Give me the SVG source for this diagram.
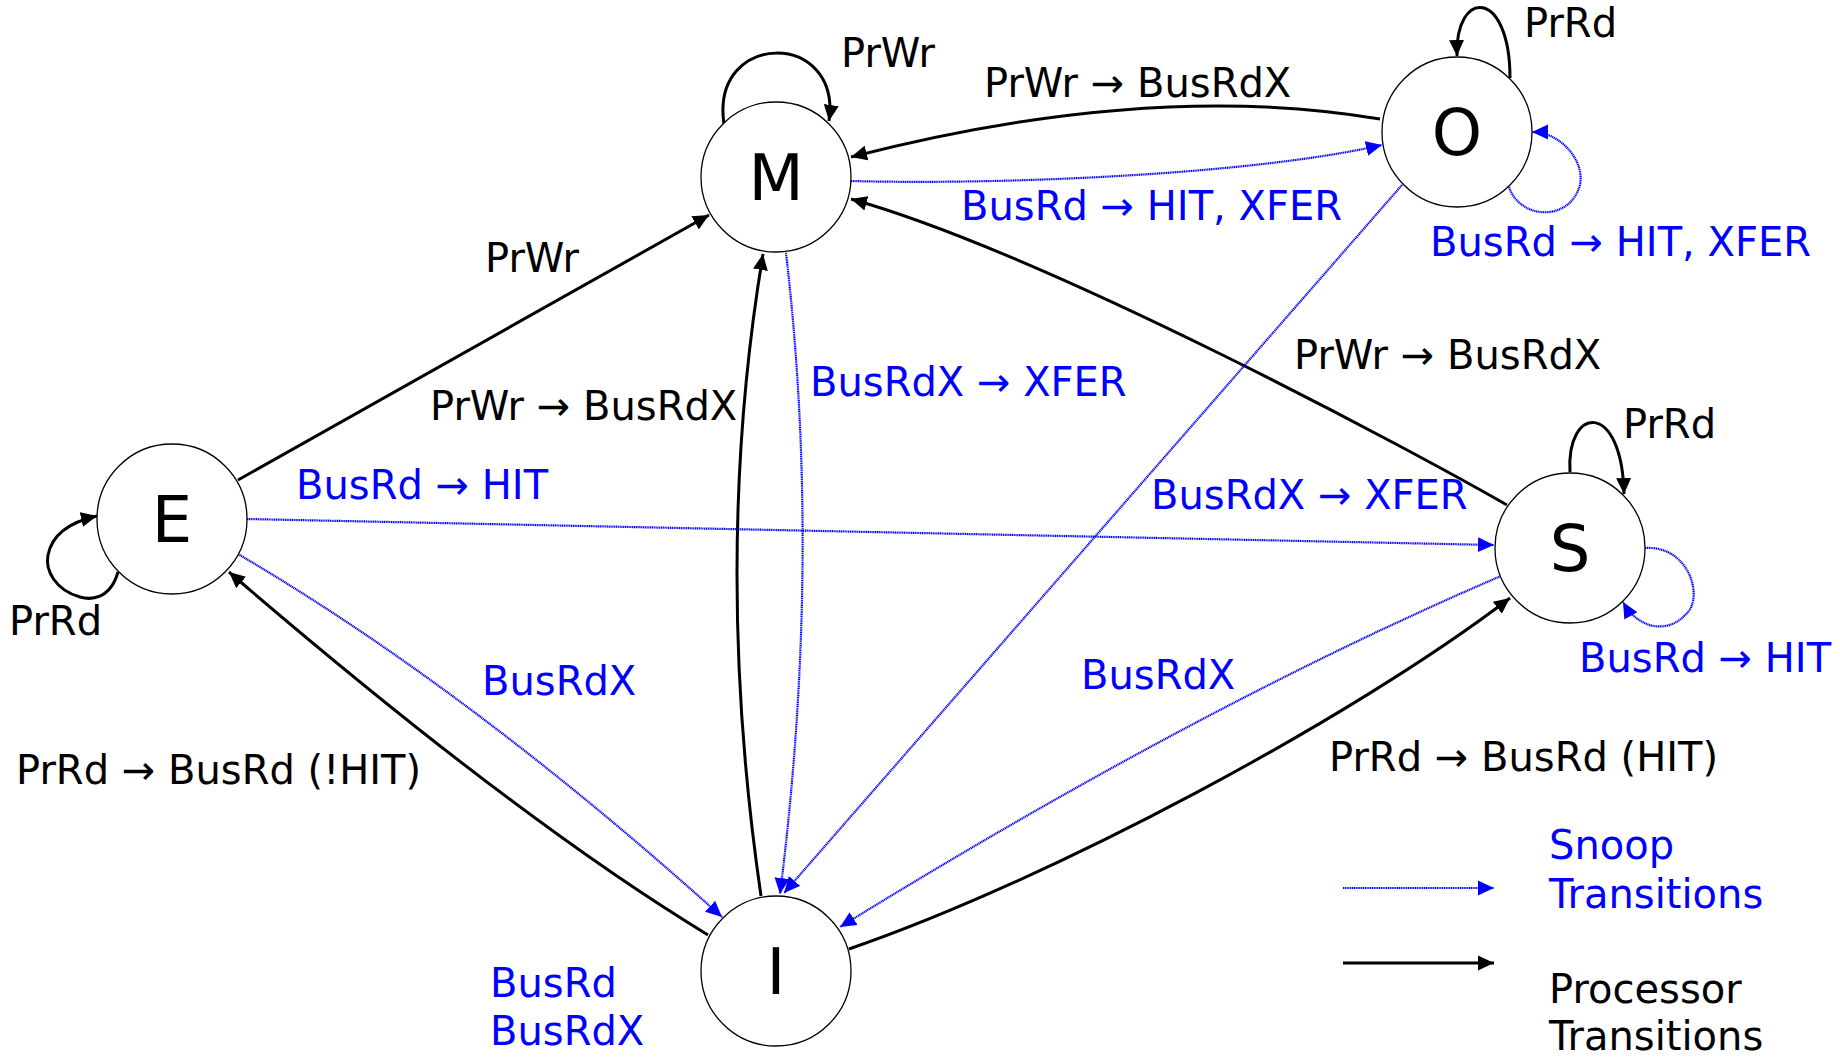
<svg xmlns="http://www.w3.org/2000/svg" width="1840" height="1060" viewBox="0 0 1840 1060">
<defs>
<style>
.node circle{fill:#fff;stroke:#000;stroke-width:1.3}
.node text{font-family:"DejaVu Sans",sans-serif;font-size:64px;text-anchor:middle;fill:#000}
.lbl{font-family:"DejaVu Sans",sans-serif;font-size:40px}
.k{fill:#000}
.b{fill:#0000ff}
.pe{fill:none;stroke:#000;stroke-width:3}
.se{fill:none;stroke:#0000ff;stroke-width:2.2;stroke-dasharray:1.2 0.6}
</style>
<marker id="ak" markerUnits="userSpaceOnUse" markerWidth="16" markerHeight="16" refX="16" refY="7.5" orient="auto" viewBox="0 0 16 15"><path d="M0,0 L16,7.5 L0,15 z" fill="#000"/></marker>
<marker id="ab" markerUnits="userSpaceOnUse" markerWidth="16" markerHeight="16" refX="16" refY="7.5" orient="auto" viewBox="0 0 16 15"><path d="M0,0 L16,7.5 L0,15 z" fill="#0000ff"/></marker>
</defs>
<rect width="1840" height="1060" fill="#fff"/>
<g id="connectors">
<!-- processor transitions -->
<path class="pe" marker-end="url(#ak)" d="M724,124 C710,30 842,30 829,121"/>
<path class="pe" marker-end="url(#ak)" d="M1380,119 Q1150,80 851,157"/>
<path class="pe" marker-end="url(#ak)" d="M1510,78 C1510,-12 1455,-12 1457,56"/>
<path class="pe" marker-end="url(#ak)" d="M238,480 L709,215"/>
<path class="pe" marker-end="url(#ak)" d="M761,896 Q712,560 763,254"/>
<path class="pe" marker-end="url(#ak)" d="M1507,505 C1420,455 1050,255 851,199"/>
<path class="pe" marker-end="url(#ak)" d="M118,572 C110,600 90,600 80,597 C55,590 45,570 48,555 C52,535 70,522 97,516"/>
<path class="pe" marker-end="url(#ak)" d="M708,935 Q515,818 229,572"/>
<path class="pe" marker-end="url(#ak)" d="M1570,472 C1566,405 1622,400 1624,494"/>
<path class="pe" marker-end="url(#ak)" d="M849,949 C1050,880 1350,720 1510,598"/>
<!-- snoop transitions -->
<path class="se" marker-end="url(#ab)" d="M851,181 C1000,185 1250,175 1382,145"/>
<path class="se" marker-end="url(#ab)" d="M1509,187 C1520,220 1570,222 1580,185 C1585,160 1560,132 1532,132"/>
<path class="se" marker-end="url(#ab)" d="M786,253 Q822,560 780,894"/>
<path class="se" marker-end="url(#ab)" d="M1402,185 L784,893"/>
<path class="se" marker-end="url(#ab)" d="M247,519 L1494,545"/>
<path class="se" marker-end="url(#ab)" d="M238,554 Q470,690 722,917"/>
<path class="se" marker-end="url(#ab)" d="M1501,576 Q1200,705 840,927"/>
<path class="se" marker-end="url(#ab)" d="M1645,548 C1690,545 1705,600 1685,615 C1670,632 1640,632 1623,602"/>
<!-- legend -->
<path class="se" marker-end="url(#ab)" d="M1343,888 L1494,888"/>
<path class="pe" marker-end="url(#ak)" d="M1343,963 L1494,963"/>
</g>
<g id="node-M" class="node"><circle cx="776" cy="177" r="75"/><text x="776" y="200">M</text></g>
<g id="node-O" class="node"><circle cx="1457" cy="132" r="75"/><text x="1457" y="155">O</text></g>
<g id="node-E" class="node"><circle cx="172" cy="519" r="75"/><text x="172" y="542">E</text></g>
<g id="node-S" class="node"><circle cx="1570" cy="548" r="75"/><text x="1570" y="571">S</text></g>
<g id="node-I" class="node"><circle cx="776" cy="971" r="75"/><text x="776" y="994">I</text></g>
<g id="labels" class="lbl">
<text class="k" x="841" y="67">PrWr</text>
<text class="k" x="984" y="97">PrWr → BusRdX</text>
<text class="k" x="1524" y="37">PrRd</text>
<text class="b" x="961" y="220">BusRd → HIT, XFER</text>
<text class="b" x="1430" y="256">BusRd → HIT, XFER</text>
<text class="k" x="485" y="272">PrWr</text>
<text class="k" x="430" y="420">PrWr → BusRdX</text>
<text class="b" x="810" y="396">BusRdX → XFER</text>
<text class="k" x="1294" y="369">PrWr → BusRdX</text>
<text class="k" x="1623" y="438">PrRd</text>
<text class="b" x="296" y="499">BusRd → HIT</text>
<text class="b" x="1151" y="509">BusRdX → XFER</text>
<text class="k" x="9" y="635">PrRd</text>
<text class="b" x="482" y="695">BusRdX</text>
<text class="k" x="16" y="784">PrRd → BusRd (!HIT)</text>
<text class="b" x="490" y="997">BusRd</text>
<text class="b" x="490" y="1045">BusRdX</text>
<text class="b" x="1081" y="689">BusRdX</text>
<text class="b" x="1579" y="672">BusRd → HIT</text>
<text class="k" x="1329" y="771">PrRd → BusRd (HIT)</text>
<text class="b" x="1549" y="859">Snoop</text>
<text class="b" x="1549" y="908">Transitions</text>
<text class="k" x="1549" y="1003">Processor</text>
<text class="k" x="1549" y="1050">Transitions</text>
</g>
</svg>
